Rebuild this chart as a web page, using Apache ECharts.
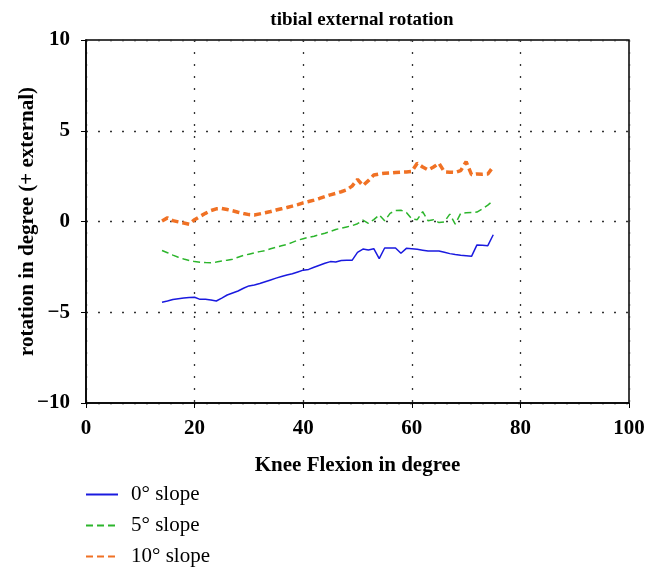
<!DOCTYPE html>
<html>
<head>
<meta charset="utf-8">
<script src="https://cdn.jsdelivr.net/npm/echarts@6/dist/echarts.min.js"></script>
<style>html,body{margin:0;padding:0;background:#fff}#c{width:657px;height:582px}</style>
</head>
<body>
<div id="c"></div>
<script>
const flexion = [14,15,16,17,18,19,20,21,22,23,24,25,26,27,28,29,30,31,32,33,34,35,36,37,38,39,40,41,42,43,44,45,46,47,48,49,50,51,52,53,54,55,56,57,58,59,60,61,62,63,64,65,66,67,68,69,70,71,72,73,74,75];
const slope0 = [-4.45,-4.38,-4.30,-4.25,-4.22,-4.19,-4.17,-4.29,-4.29,-4.33,-4.38,-4.22,-4.05,-3.94,-3.83,-3.68,-3.55,-3.50,-3.42,-3.32,-3.22,-3.12,-3.03,-2.95,-2.88,-2.78,-2.68,-2.64,-2.52,-2.41,-2.30,-2.21,-2.23,-2.15,-2.14,-2.14,-1.70,-1.52,-1.57,-1.50,-2.05,-1.46,-1.46,-1.46,-1.75,-1.48,-1.50,-1.53,-1.58,-1.63,-1.63,-1.63,-1.70,-1.77,-1.82,-1.86,-1.89,-1.92,-1.29,-1.31,-1.33,-0.73];
const slope5 = [-1.60,-1.72,-1.85,-1.97,-2.07,-2.15,-2.21,-2.24,-2.26,-2.27,-2.23,-2.18,-2.13,-2.08,-1.97,-1.87,-1.80,-1.73,-1.66,-1.60,-1.50,-1.42,-1.34,-1.27,-1.15,-1.03,-0.95,-0.87,-0.81,-0.72,-0.65,-0.55,-0.44,-0.37,-0.30,-0.23,-0.12,0.08,-0.10,0.10,0.36,0.04,0.45,0.60,0.62,0.50,0.14,0.10,0.54,0.04,0.10,-0.06,-0.02,0.41,-0.14,0.45,0.48,0.49,0.52,0.70,0.90,1.15];
const slope10 = [0.03,0.20,0.05,-0.02,-0.08,-0.15,0.10,0.28,0.45,0.60,0.70,0.72,0.66,0.59,0.51,0.44,0.38,0.36,0.42,0.48,0.55,0.63,0.70,0.77,0.85,0.93,1.03,1.10,1.18,1.27,1.37,1.47,1.55,1.64,1.74,1.95,2.32,1.98,2.25,2.56,2.62,2.66,2.67,2.70,2.72,2.73,2.76,3.21,3.00,2.84,3.00,3.21,2.74,2.72,2.70,2.80,3.30,2.58,2.62,2.60,2.62,3.02];
const seriesNames = ['0° slope','5° slope','10° slope'];
const xTicks = [0,20,40,60,80,100];
const yTicks = [-10,-5,0,5,10];

const FONT = "'Liberation Serif','DejaVu Serif',serif";
const pair = (ys) => flexion.map((x,i)=>[x, ys[i]]);

const chart = echarts.init(document.getElementById('c'), null, {renderer:'canvas'});
chart.setOption({
  animation:false,
  backgroundColor:'#fff',
  title:{text:'tibial external rotation', left:357, textAlign:'center', top:6,
    textStyle:{fontFamily:FONT, fontWeight:'bold', fontSize:19, color:'#000'}},
  grid:{left:86, right:28, top:40, bottom:179, containLabel:false, outerBoundsMode:'none',
    show:true, borderColor:'#000', borderWidth:1.5, backgroundColor:'transparent'},
  legend:{orient:'vertical', left:85, top:484, padding:0, itemWidth:32, itemHeight:14, itemGap:10,
    itemStyle:{opacity:0},
    textStyle:{fontFamily:FONT, fontSize:21, lineHeight:21, color:'#000', padding:[0,0,0,8]},
    data:seriesNames},
  xAxis:{type:'value', min:xTicks[0], max:xTicks[xTicks.length-1], interval:20,
    name:'Knee Flexion in degree', nameLocation:'middle', nameGap:52, nameMoveOverlap:false,
    nameTextStyle:{fontFamily:FONT, fontWeight:'bold', fontSize:21, color:'#000'},
    axisLine:{show:true, onZero:false, lineStyle:{color:'#000', width:1.5}},
    axisTick:{show:true, inside:false, length:5, lineStyle:{color:'#000'}},
    axisLabel:{margin:15, fontFamily:FONT, fontWeight:'bold', fontSize:21, color:'#000'},
    splitLine:{show:true, lineStyle:{color:'#333', type:[2,10], width:1.3}}},
  yAxis:{type:'value', min:yTicks[0], max:yTicks[yTicks.length-1], interval:5,
    name:'rotation in degree (+ external)', nameLocation:'middle', nameGap:48, nameMoveOverlap:false,
    nameTextStyle:{fontFamily:FONT, fontWeight:'bold', fontSize:21, color:'#000'},
    axisLine:{show:true, onZero:false, lineStyle:{color:'#000', width:1.5}},
    axisTick:{show:true, inside:false, length:5, lineStyle:{color:'#000'}},
    axisLabel:{margin:16, fontFamily:FONT, fontWeight:'bold', fontSize:21, color:'#000',
      formatter:(v)=> v<0 ? '\u2212'+Math.abs(v) : String(v)},
    splitLine:{show:true, lineStyle:{color:'#333', type:[2,10], width:1.3}}},
  series:[
    {name:seriesNames[0], type:'line', data:pair(slope0), showSymbol:false, symbol:'none',
      lineStyle:{color:'#1a1adf', width:1.5, type:'solid'}, itemStyle:{color:'#1a1adf'}},
    {name:seriesNames[1], type:'line', data:pair(slope5), showSymbol:false, symbol:'none',
      lineStyle:{color:'#2cb52c', width:1.5, type:[7,4]}, itemStyle:{color:'#2cb52c'}},
    {name:seriesNames[2], type:'line', data:pair(slope10), showSymbol:false, symbol:'none',
      lineStyle:{color:'#f07124', width:3.5, type:[7,4]}, itemStyle:{color:'#f07124'}}
  ]
});
</script>
</body>
</html>
